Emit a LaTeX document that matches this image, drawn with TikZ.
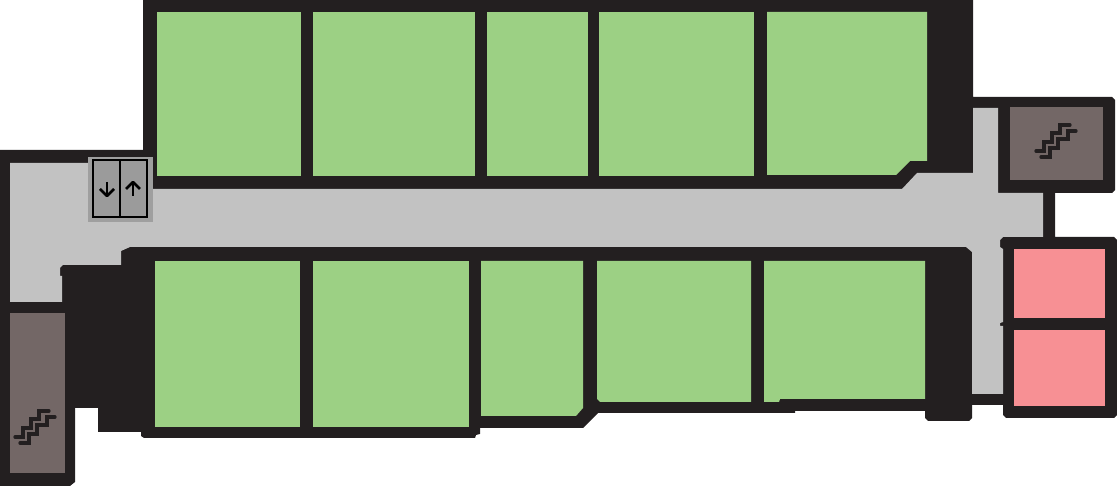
\documentclass[tikz,border=0pt]{standalone}
\usepackage{xcolor}
\definecolor{wallblack}{HTML}{231F20}
\definecolor{corridorgrey}{HTML}{C2C2C2}
\definecolor{roomgreen}{HTML}{9CD084}
\definecolor{roompink}{HTML}{F79094}
\definecolor{stairbrown}{HTML}{736766}
\definecolor{liftgrey}{HTML}{9B9B9B}
\tikzset{
  greenroom/.style={fill=roomgreen},
  pinkroom/.style={fill=roompink},
  stairroom/.style={fill=stairbrown},
  stairline/.style={draw=wallblack,line width=0.065cm,line cap=round,line join=miter},
  liftline/.style={draw=black,line width=0.052cm}
}
\begin{document}
\begin{tikzpicture}[x=0.02cm,y=-0.02cm]
\useasboundingbox (0,0) rectangle (1117,486);
% walls
\fill[wallblack] (0,150)--(143,150)--(143,0)--(973,0)--(973,97)--(1112,97)--(1115,100)--(1115,190)--(1112,193)
  --(1055,193)--(1055,237)--(1114,237)--(1117,240)--(1117,415)--(1114,418)--(1006,418)--(1003,415)--(1003,405)--(972,405)
  --(972,418)--(969,421)--(928,421)--(925,418)--(925,411)--(795,411)--(795,413)--(598,413)--(583,428)--(480,428)
  --(480,434)--(476,435)--(475,438)--(144,438)--(141,436)--(141,432)--(98,432)--(98,408)--(75,408)--(75,482)--(70,486)--(0,486)--cycle;
% corridor
\fill[corridorgrey] (10,163)--(100,163)--(100,189)--(902,189)--(917,173)--(973,173)--(973,108)--(998,108)--(998,193)
  --(1043,193)--(1043,237)--(1003,237)--(1000,240)--(1000,247)--(1003,249)--(1003,322)--(1000,323)--(1000,326)--(1003,326)
  --(1003,394)--(972,394)--(972,252)--(966,247)--(130,247)--(121,251)--(121,265)--(63,265)--(60,268)--(60,276)--(62,276)
  --(62,302)--(10,302)--cycle;
% upper rooms
\foreach \xa/\xb in {157/301,313/475,487/588,599/754}
{	\fill[greenroom] (\xa,12) rectangle (\xb,176);
}
\fill[greenroom] (767,12)--(927,12)--(927,161)--(910,161)--(896,175)--(767,175)--cycle;
% lower rooms
\foreach \xa/\xb in {155/300,313/469}
{	\fill[greenroom] (\xa,261) rectangle (\xb,427);
}
\fill[greenroom] (481,261)--(583,261)--(583,408)--(576,416)--(481,416)--cycle;
\fill[greenroom] (597,261)--(751,261)--(751,402)--(600,402)--(597,399)--cycle;
\fill[greenroom] (764,261)--(925,261)--(925,399)--(780,399)--(779,402)--(764,402)--cycle;
% toilets
\fill[pinkroom] (1014,249) rectangle (1105,318);
\fill[pinkroom] (1014,330) rectangle (1105,406);
% stairs
\fill[stairroom] (10,313) rectangle (65,473);
\fill[stairroom] (1010,107) rectangle (1103,180);
\foreach \sx/\sy in {0/0,-1021/286}
{	\draw[stairline,shift={(\sx,\sy)}] (1036,151)--(1044,151)--(1044,142)--(1052,142)--(1052,133)--(1060,133)--(1060,125)--(1070,125);
	\draw[stairline,shift={(\sx,\sy)}] (1041,157)--(1050,157)--(1050,148)--(1058,148)--(1058,139)--(1068,139)--(1068,131)--(1076,131);
}
% lift
\fill[gray!75] (88,157) rectangle (153,222);
\draw[liftline,fill=liftgrey] (93,160) rectangle (147,217);
\draw[liftline] (120,160)--(120,217);
\draw[liftline] (107,182)--(107,196);
\draw[liftline,line join=round] (100,189)--(107,196)--(114,189);
\draw[liftline] (133,196)--(133,182);
\draw[liftline,line join=round] (126,189)--(133,182)--(140,189);
\end{tikzpicture}
\end{document}
